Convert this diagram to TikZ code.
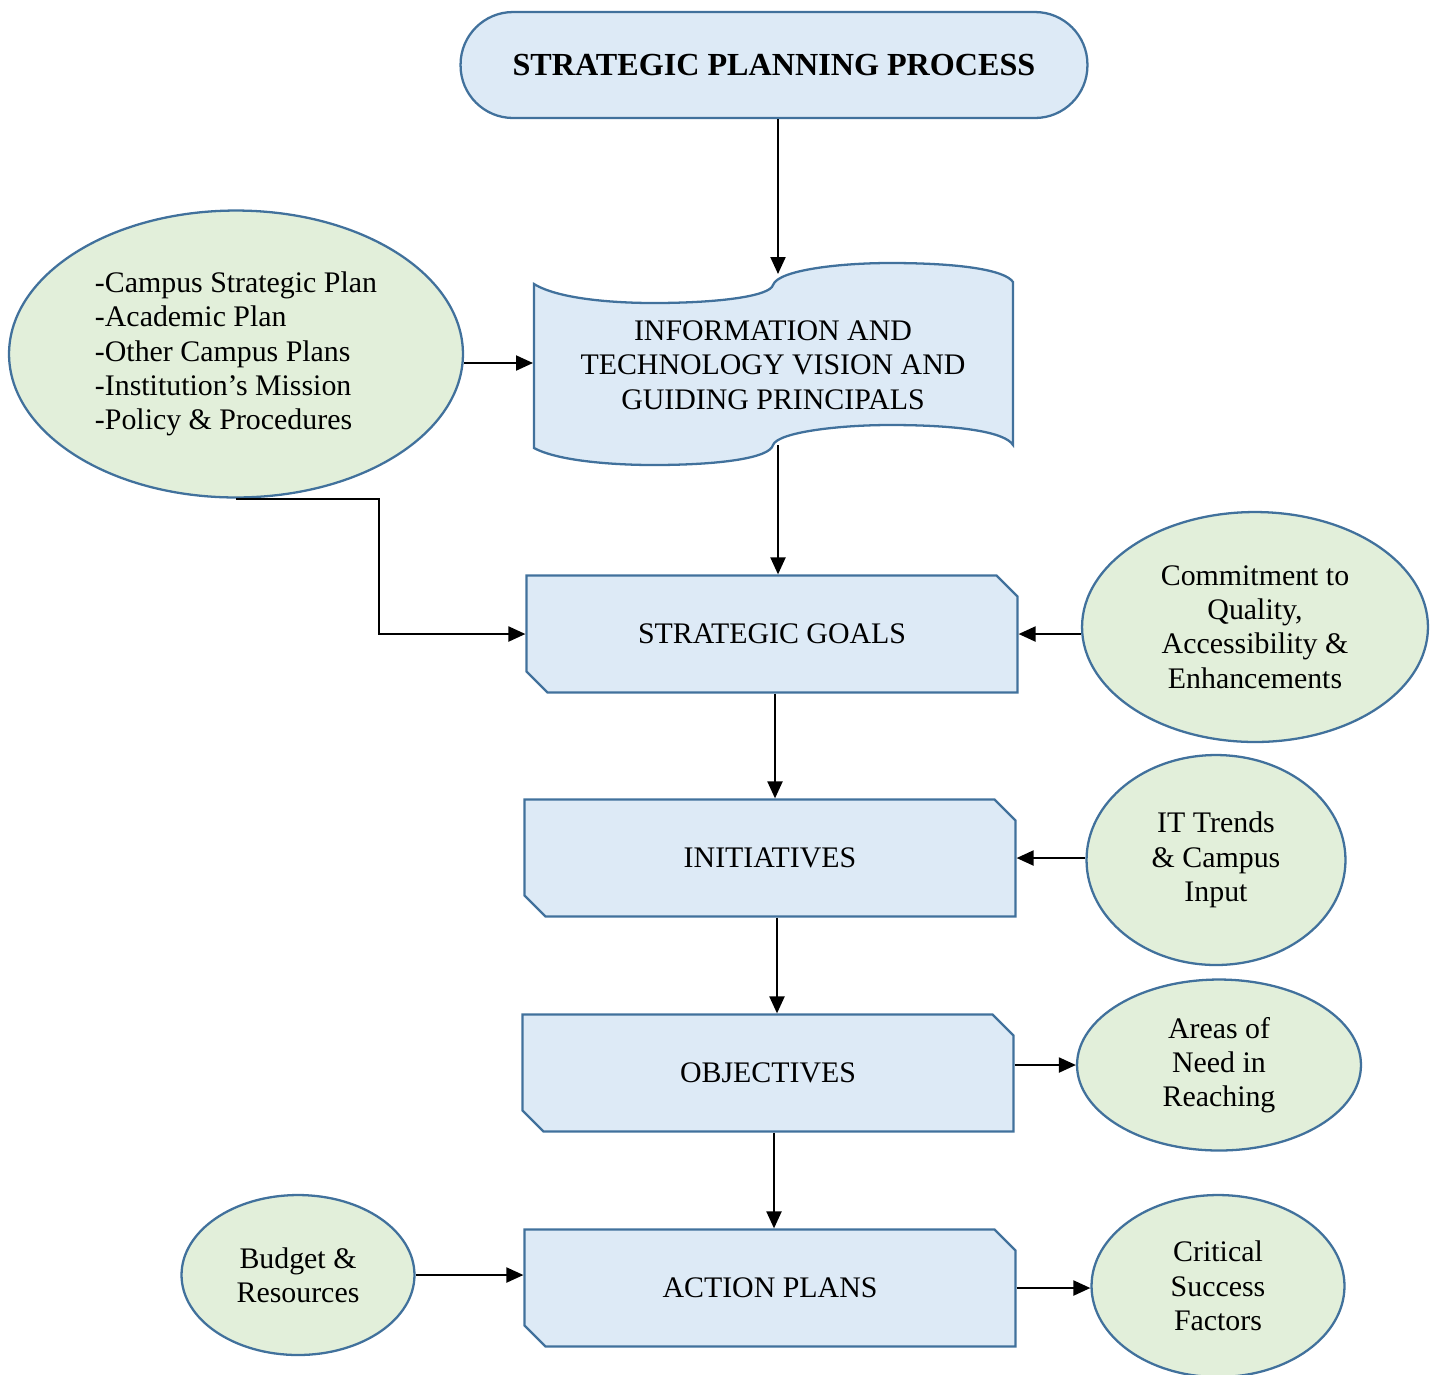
\documentclass[tikz,border=0pt]{standalone}
\usepackage{fontspec}
\setmainfont{Liberation Serif}
\usepackage{tikz}
\usetikzlibrary{arrows.meta, positioning, calc, shapes.geometric, shapes.misc}

\definecolor{boxblue}{RGB}{221,234,246}
\definecolor{edgeblue}{RGB}{65,113,156}
\definecolor{ovalgreen}{RGB}{226,239,218}

\begin{document}
\begin{tikzpicture}[x=0.02cm, y=-0.02cm,
    txt/.style={font=\fontsize{17}{19.5}\selectfont, align=center},
    banner/.style={txt, draw=edgeblue, fill=boxblue, line width=1.3pt, rounded corners=1.05cm,
        minimum width=12.54cm, minimum height=2.12cm, font=\fontsize{18.3}{21}\selectfont\bfseries},
    stage/.style={txt, chamfered rectangle, chamfered rectangle corners={north east, south west},
        chamfered rectangle xsep=0.21cm, chamfered rectangle ysep=0.21cm,
        draw=edgeblue, fill=boxblue, line width=1.3pt, minimum width=9.82cm, minimum height=2.34cm},
    oval/.style={txt, ellipse, draw=edgeblue, fill=ovalgreen, line width=1.3pt, inner sep=0pt},
    link/.style={-{Triangle[length=0.34cm, width=0.3cm]}, line width=1.2pt}]
    \useasboundingbox (0,0) rectangle (1436,1374);

    \node[banner] (banner) at (774,65) {STRATEGIC PLANNING PROCESS};

    % wavy document shape
    \draw[draw=edgeblue, fill=boxblue, line width=1.3pt]
        (534,284) .. controls (560,300) and (620,303) .. (653,303)
        .. controls (720,303) and (770,296) .. (773,285)
        .. controls (778,270) and (840,263) .. (890,263)
        .. controls (960,263) and (1005,270) .. (1013,282) -- (1013,445)
        .. controls (1005,432) and (960,425) .. (890,425)
        .. controls (840,425) and (778,432) .. (773,445)
        .. controls (770,458) and (720,465) .. (653,465)
        .. controls (620,465) and (560,462) .. (534,448) -- cycle;
    \node[txt] (info) at (773,365) {INFORMATION AND\\TECHNOLOGY VISION AND\\GUIDING PRINCIPALS};
    \coordinate (infotop) at (778,274);
    \coordinate (infobot) at (778,445);
    \coordinate (infoleft) at (533,363);

    \node[oval, minimum width=9.08cm, minimum height=5.74cm, align=left] (plans) at (236,354)
        {-Campus Strategic Plan\\-Academic Plan\\-Other Campus Plans\\-Institution’s Mission\\-Policy \& Procedures};
    \coordinate (elbow) at (379,501);

    \node[stage] (goals) at (772,634) {STRATEGIC GOALS};
    \node[stage] (inits) at (770,858) {INITIATIVES};
    \node[stage] (objs) at (768,1073) {OBJECTIVES};
    \node[stage] (actions) at (770,1288) {ACTION PLANS};

    \node[oval, minimum width=6.92cm, minimum height=4.6cm] (quality) at (1255,627)
        {Commitment to\\Quality,\\Accessibility \&\\Enhancements};
    \node[oval, minimum width=5.18cm, minimum height=4.2cm] (trends) at (1216,860)
        {IT Trends\\\& Campus\\Input};
    \node[oval, minimum width=5.68cm, minimum height=3.42cm] (areas) at (1219,1065)
        {Areas of\\Need in\\Reaching};
    \node[oval, minimum width=5.06cm, minimum height=3.64cm] (critical) at (1218,1286)
        {Critical\\Success\\Factors};
    \node[oval, minimum width=4.66cm, minimum height=3.2cm] (budget) at (298,1275)
        {Budget \&\\Resources};

    \draw[link] (banner.south -| infotop) -- (infotop);
    \draw[link] (plans.east |- infoleft) -- (infoleft);
    \draw[link] (infobot) -- (infobot |- goals.north);
    \draw[link] (plans.south) -| (elbow) |- (goals.west);
    \draw[link] (quality.west |- goals.east) -- (goals.east);
    \draw[link] ([xshift=0.06cm]goals.south) -- ([xshift=0.06cm]goals.south |- inits.north);
    \draw[link] (trends.west |- inits.east) -- (inits.east);
    \draw[link] ([xshift=0.14cm]inits.south) -- ([xshift=0.14cm]inits.south |- objs.north);
    \draw[link] (areas.west -| objs.east) -- (areas.west);
    \draw[link] ([xshift=0.12cm]objs.south) -- ([xshift=0.12cm]objs.south |- actions.north);
    \draw[link] (budget.east) -- (budget.east -| actions.west);
    \draw[link] (actions.east) -- (actions.east -| critical.west);
\end{tikzpicture}
\end{document}
